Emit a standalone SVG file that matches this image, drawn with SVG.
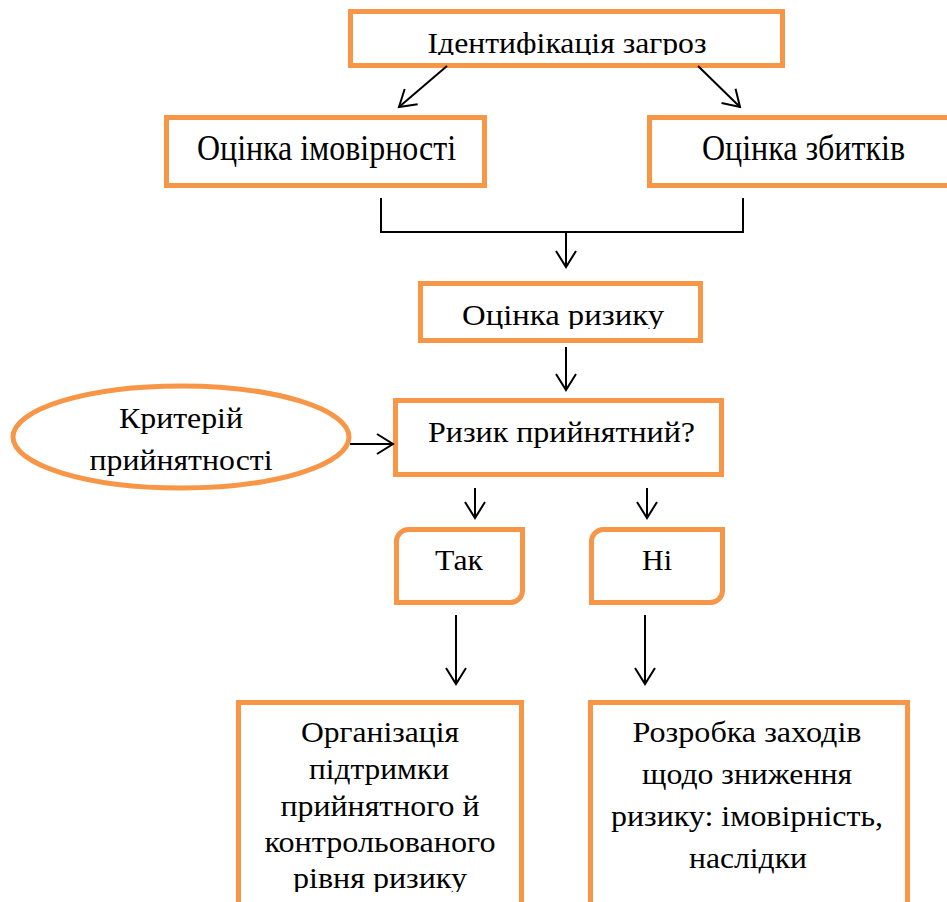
<svg xmlns="http://www.w3.org/2000/svg" width="947" height="902" viewBox="0 0 947 902">
<style>
.box{fill:#FFFFFF;stroke:#F79646;stroke-width:5}
.t{font-family:"Liberation Serif","Times New Roman",serif;fill:#000;text-anchor:middle}
.c{fill:none;stroke:#000;stroke-width:2}
</style>
<defs>
<marker id="ah" markerUnits="userSpaceOnUse" viewBox="-20 -14 24 28" markerWidth="24" markerHeight="28" refX="0" refY="0" orient="auto" overflow="visible">
<path d="M-16,-10 L0,0 L-16,10" fill="none" stroke="#000" stroke-width="2"/>
</marker>
<clipPath id="c1"><rect x="350" y="11" width="433" height="44"/></clipPath>
<clipPath id="c2"><rect x="420" y="283" width="281" height="46"/></clipPath>
<clipPath id="c3"><rect x="238" y="702" width="283" height="190"/></clipPath>
</defs>
<g id="n1">
<rect class="box" x="350.5" y="11.5" width="432" height="54"/>
<text class="t" x="567" y="53" font-size="30" textLength="279" lengthAdjust="spacingAndGlyphs" clip-path="url(#c1)">Ідентифікація загроз</text>
</g>
<g id="n2">
<rect class="box" x="166.5" y="117.5" width="318" height="68"/>
<text class="t" x="326.5" y="160" font-size="35" textLength="259" lengthAdjust="spacingAndGlyphs">Оцінка імовірності</text>
</g>
<g id="n3">
<rect class="box" x="649.5" y="117.5" width="310" height="68"/>
<text class="t" x="803.5" y="160" font-size="35" textLength="203" lengthAdjust="spacingAndGlyphs">Оцінка збитків</text>
</g>
<g id="n4">
<rect class="box" x="420.5" y="283.5" width="280" height="57"/>
<text class="t" x="563" y="325" font-size="30" textLength="202" lengthAdjust="spacingAndGlyphs" clip-path="url(#c2)">Оцінка ризику</text>
</g>
<g id="n5">
<rect class="box" x="395.5" y="400.5" width="326" height="74"/>
<text class="t" x="561.5" y="442" font-size="30" textLength="267" lengthAdjust="spacingAndGlyphs">Ризик прийнятний?</text>
</g>
<g id="n6">
<ellipse class="box" cx="181" cy="437" rx="168" ry="51"/>
<text class="t" x="181" y="428" font-size="30" textLength="124" lengthAdjust="spacingAndGlyphs">Критерій</text>
<text class="t" x="181" y="470" font-size="30" textLength="183" lengthAdjust="spacingAndGlyphs">прийнятності</text>
</g>
<g id="n7">
<path class="box" d="M408.5,529.5 H522.5 V590.5 A12,12 0 0 1 510.5,602.5 H396.5 V541.5 A12,12 0 0 1 408.5,529.5 Z"/>
<text class="t" x="459" y="570" font-size="30" textLength="48" lengthAdjust="spacingAndGlyphs">Так</text>
</g>
<g id="n8">
<path class="box" d="M603.5,529.5 H722.5 V590.5 A12,12 0 0 1 710.5,602.5 H591.5 V541.5 A12,12 0 0 1 603.5,529.5 Z"/>
<text class="t" x="657" y="570" font-size="30">Ні</text>
</g>
<g id="n9">
<rect class="box" x="238.5" y="702.5" width="283" height="220"/>
<g clip-path="url(#c3)">
<text class="t" x="380" y="742" font-size="30" textLength="158" lengthAdjust="spacingAndGlyphs">Організація</text>
<text class="t" x="379" y="779" font-size="30" textLength="140" lengthAdjust="spacingAndGlyphs">підтримки</text>
<text class="t" x="380" y="816" font-size="30" textLength="199" lengthAdjust="spacingAndGlyphs">прийнятного й</text>
<text class="t" x="380" y="852" font-size="30" textLength="231" lengthAdjust="spacingAndGlyphs">контрольованого</text>
<text class="t" x="380" y="888" font-size="30" textLength="174" lengthAdjust="spacingAndGlyphs">рівня ризику</text>
</g>
</g>
<g id="n10">
<rect class="box" x="590.5" y="702.5" width="317" height="220"/>
<text class="t" x="747" y="742" font-size="30" textLength="229" lengthAdjust="spacingAndGlyphs">Розробка заходів</text>
<text class="t" x="747" y="784" font-size="30" textLength="210" lengthAdjust="spacingAndGlyphs">щодо зниження</text>
<text class="t" x="747" y="826" font-size="30" textLength="272" lengthAdjust="spacingAndGlyphs">ризику: імовірність,</text>
<text class="t" x="748" y="868" font-size="30" textLength="118" lengthAdjust="spacingAndGlyphs">наслідки</text>
</g>
<g id="connectors">
<line class="c" x1="447" y1="66" x2="399" y2="107" marker-end="url(#ah)"/>
<line class="c" x1="698" y1="66" x2="740" y2="107" marker-end="url(#ah)"/>
<polyline class="c" points="381,198 381,232 743,232 743,198"/>
<line class="c" x1="566" y1="232" x2="566" y2="267" marker-end="url(#ah)"/>
<line class="c" x1="566" y1="347" x2="566" y2="390" marker-end="url(#ah)"/>
<line class="c" x1="350" y1="444" x2="393" y2="444" marker-end="url(#ah)"/>
<line class="c" x1="475" y1="488" x2="475" y2="518" marker-end="url(#ah)"/>
<line class="c" x1="647" y1="488" x2="647" y2="518" marker-end="url(#ah)"/>
<line class="c" x1="456" y1="615" x2="456" y2="684" marker-end="url(#ah)"/>
<line class="c" x1="645" y1="615" x2="645" y2="684" marker-end="url(#ah)"/>
</g>
</svg>
